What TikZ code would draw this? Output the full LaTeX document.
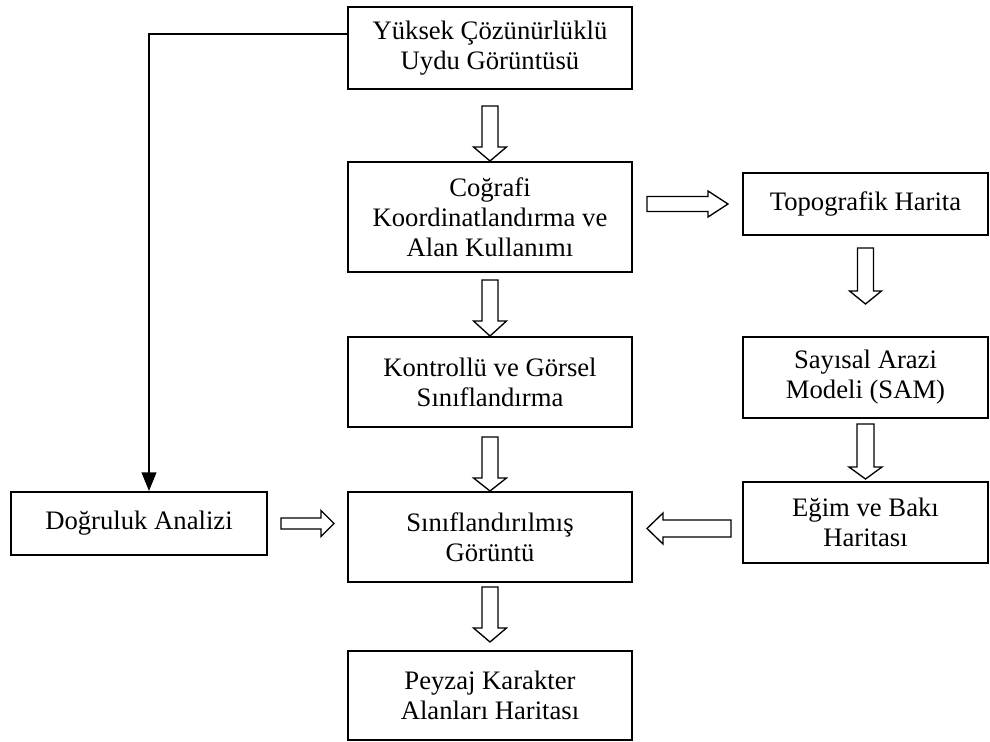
\documentclass[tikz,border=0pt]{standalone}
\usepackage{fontspec}
\setmainfont{Liberation Serif}
\usetikzlibrary{arrows.meta,calc}
\tikzset{
  box/.style={draw, line width=1.5pt, align=center, inner sep=0pt,
    font=\fontsize{20pt}{22.5pt}\selectfont},
  blk/.style={draw, line width=1pt, line join=miter, fill=white},
  conn/.style={line width=1.5pt, -{Triangle[length=14pt,width=11pt]}},
}
% #1 tip, #2 rotation, #3 length, #4 shaft width, #5 head width, #6 head length
\newcommand{\barr}[6]{\draw[blk, shift={(#1)}, rotate=#2] (0,0) -- (-#6,#5/2) -- (-#6,#4/2) -- (-#3,#4/2) -- (-#3,-#4/2) -- (-#6,-#4/2) -- (-#6,-#5/2) -- cycle;}
\begin{document}
\begin{tikzpicture}[x=0.75pt,y=-0.75pt]
\useasboundingbox (0,0) rectangle (990,742);
\node[box, minimum width=213pt, minimum height=61.5pt] (b1) at (490,48) {Yüksek Çözünürlüklü\\Uydu Görüntüsü};
\node[box, minimum width=213pt, minimum height=82.5pt] (b2) at (490,217) {Coğrafi\\Koordinatlandırma ve\\Alan Kullanımı};
\node[box, minimum width=213pt, minimum height=67.5pt] (b3) at (490,382) {Kontrollü ve Görsel\\Sınıflandırma};
\node[box, minimum width=213pt, minimum height=67.5pt] (b4) at (490,537) {Sınıflandırılmış\\Görüntü};
\node[box, minimum width=213pt, minimum height=66.75pt] (b5) at (490,695.5) {Peyzaj Karakter\\Alanları Haritası};
\node[box, minimum width=192pt, minimum height=47.25pt] (dog) at (139,523.5) {Doğruluk Analizi};
\node[box, minimum width=183.75pt, minimum height=46.5pt] (topo) at (865.5,204) {Topografik Harita};
\node[box, minimum width=183.75pt, minimum height=60.75pt] (sam) at (865.5,377.5) {Sayısal Arazi\\Modeli (SAM)};
\node[box, minimum width=183.75pt, minimum height=60.75pt] (egim) at (865.5,522.5) {Eğim ve Bakı\\Haritası};

\barr{b2.north}{-90}{55}{16}{33}{14}
\barr{b3.north}{-90}{56}{16}{33}{15}
\barr{b4.north}{-90}{54}{16}{33}{13}
\barr{$(b5.north)+(0,-8)$}{-90}{55}{16}{33}{14}
\barr{$(topo.west)+(-14,0)$}{0}{81}{15}{26}{20}
\barr{$(sam.north)+(0,-32)$}{-90}{56}{16}{32}{13}
\barr{$(egim.north)+(0,-2)$}{-90}{55}{17}{33}{12}
\barr{$(b4.west |- dog.east)+(-13,0)$}{0}{53}{11}{26}{13}
\barr{$(b4.east |- egim.west)+(14,6)$}{180}{84}{17}{31}{16}

\coordinate (k) at (149,34);
\draw[conn] (b1.west |- k) -- (k) -- (k |- dog.north);
\end{tikzpicture}
\end{document}
